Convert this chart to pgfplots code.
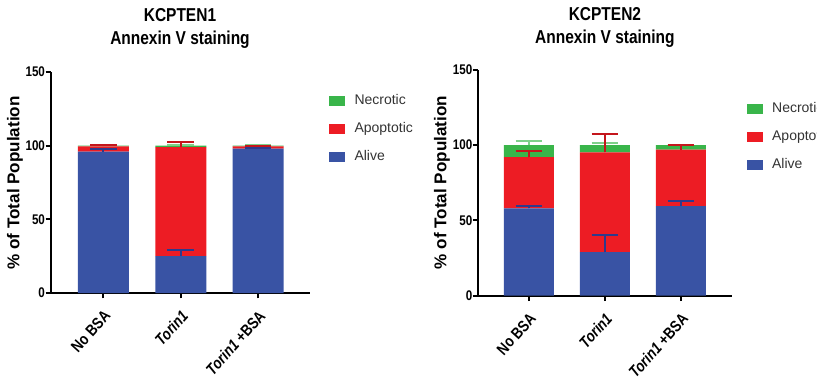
\documentclass[border=0pt]{standalone}
\usepackage{pgfplots}
\usepackage{pgfplotstable}
\pgfplotsset{compat=1.18}
\usepackage{fontspec}
\setmainfont{Liberation Sans}
\newfontfamily\narrowfont[FakeStretch=0.83]{Liberation Sans}
\definecolor{cAlive}{HTML}{3953A4}
\definecolor{cApop}{HTML}{ED1C24}
\definecolor{cNecr}{HTML}{39B54A}
\definecolor{eAlive}{HTML}{2E3A8C}
\definecolor{eApop}{HTML}{C4161C}
\definecolor{eNecr}{HTML}{7FD08A}
\definecolor{legtext}{HTML}{333333}

\pgfplotstableread{
x alive ealive apop eapop necr enecr
0 96   1.5  3.5  1.2  0.5 0.3
1 25   4.5  74   3.8  1.0 0.5
2 98   0.5  1.5  0.5  0.5 0.3
}\kcone
\pgfplotstableread{
x alive ealive apop eapop necr enecr
0 58   1.7  34   4.0  8.0 3.0
1 29   11   66.2 12.3 4.8 1.3
2 59.5 3.3  37.4 3.0  3.1 0.3
}\kctwo

\pgfplotsset{
  legbox/.style={legend image code/.code={\fill[##1] (0pt,-3.75pt) rectangle (12pt,3.75pt);}},
  errstyle/.style={error bars/.cd, y dir=plus, y explicit,
    error bar style={line width=1.5pt, color=#1},
    error mark options={rotate=90, mark size=10pt, line width=1.5pt, color=#1}},
  panel/.style={
    scale only axis,
    ybar stacked,
    ymin=0, ymax=150,
    ytick={0,50,100,150},
    xtick={0,1,2},
    xticklabels={No BSA,\textit{Torin1},\textit{Torin1} +BSA},
    axis x line*=bottom, axis y line*=left,
    axis line style={line width=1.5pt},
    major tick style={line width=1.5pt, black},
    tick align=outside,
    major tick length=4pt,
    /pgf/number format/assume math mode=true,
    yticklabel style={font=\narrowfont\bfseries\fontsize{10.5}{12}\selectfont, xshift=3pt},
    xticklabel style={font=\narrowfont\bfseries\fontsize{12}{14}\selectfont, rotate=48, anchor=north east, inner sep=1pt, xshift=-5pt, yshift=-4pt},
    ylabel={\% of Total Population},
    ylabel style={font=\bfseries\fontsize{12.8}{14}\selectfont, anchor=center},
    title style={font=\narrowfont\bfseries\fontsize{14}{17.25}\selectfont, align=center, anchor=center},
    reverse legend,
    legend cell align=left,
    legend style={draw=none, fill=none, inner sep=0pt, anchor=west,
      font=\fontsize{10.5}{12}\selectfont, text=legtext,
      nodes={inner sep=1pt, text height=8pt, text depth=2pt},
      row sep=9pt, column sep=6pt},
  }
}

\begin{document}
\begin{tikzpicture}
\useasboundingbox (0,0) rectangle (612.75pt,286.5pt);
\clip (0,0) rectangle (612.75pt,286.5pt);

\begin{axis}[panel,
  at={(38.25pt,66.75pt)}, anchor=south west,
  width=194.25pt, height=165.75pt,
  xmin=-0.677, xmax=2.67, bar width=38.25pt,
  title={KCPTEN1\\Annexin V staining},
  title style={at={(axis description cs:0.498,1.16)}},
  ylabel style={at={(axis description cs:-0.139,0.498)}},
  legend style={at={(axis description cs:1.073,0.743)}},
]
\addplot[fill=cAlive, draw=none, legbox, errstyle=eAlive] table[x=x, y=alive, y error=ealive] {\kcone};
\addlegendentry{Alive}
\addplot[fill=cApop, draw=none, legbox, errstyle=eApop] table[x=x, y=apop, y error=eapop] {\kcone};
\addlegendentry{Apoptotic}
\addplot[fill=cNecr, draw=none, legbox, errstyle=eNecr] table[x=x, y=necr, y error=enecr] {\kcone};
\addlegendentry{Necrotic}
\end{axis}

\begin{axis}[panel,
  at={(358.7pt,64.7pt)}, anchor=south west,
  width=190pt, height=169.5pt,
  xmin=-0.667, xmax=2.667, bar width=37.5pt,
  title={KCPTEN2\\Annexin V staining},
  title style={at={(axis description cs:0.5,1.15)}},
  ylabel style={at={(axis description cs:-0.143,0.501)}},
  legend style={at={(axis description cs:1.059,0.7035)}},
]
\addplot[fill=cAlive, draw=none, legbox, errstyle=eAlive] table[x=x, y=alive, y error=ealive] {\kctwo};
\addlegendentry{Alive}
\addplot[fill=cApop, draw=none, legbox, errstyle=eApop] table[x=x, y=apop, y error=eapop] {\kctwo};
\addlegendentry{Apoptotic}
\addplot[fill=cNecr, draw=none, legbox, errstyle=eNecr] table[x=x, y=necr, y error=enecr] {\kctwo};
\addlegendentry{Necrotic}
\end{axis}
\end{tikzpicture}
\end{document}
